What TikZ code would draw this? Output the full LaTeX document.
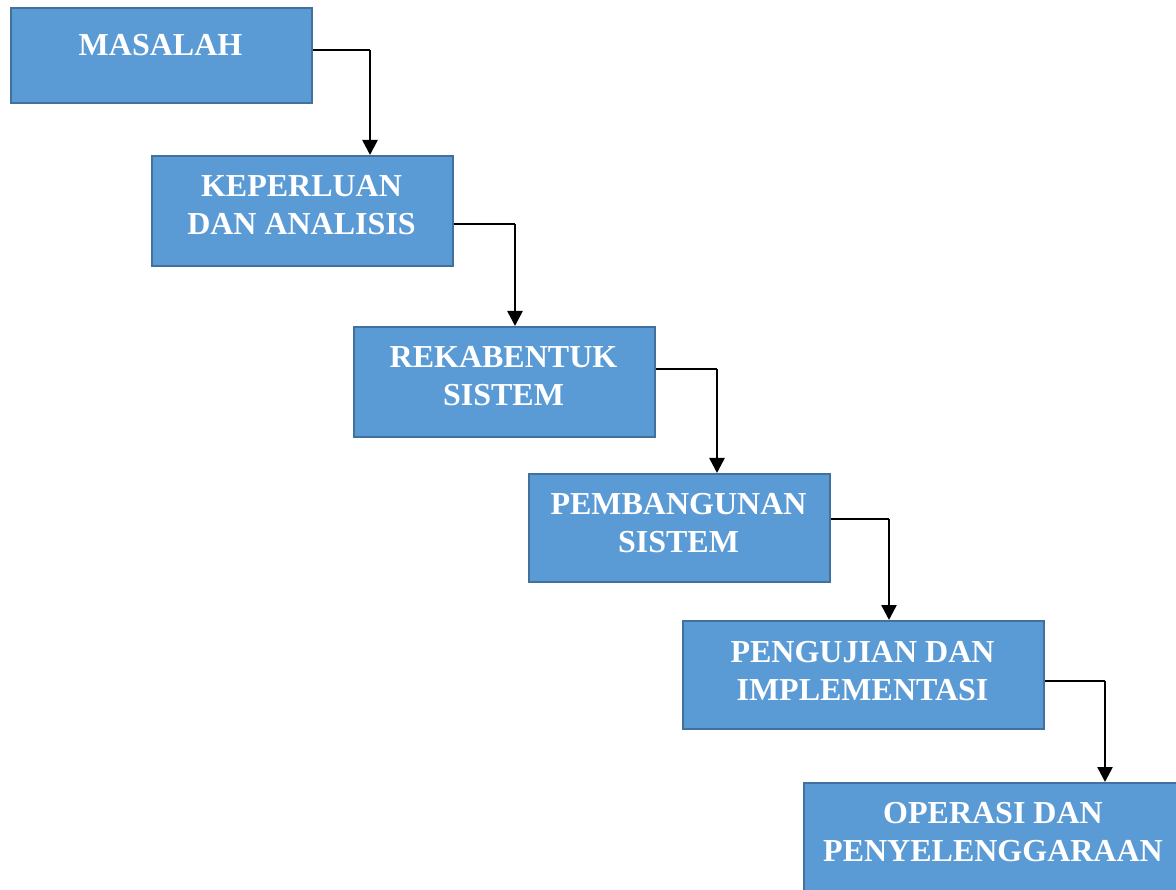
\documentclass[tikz,border=0pt]{standalone}
\usepackage{fontspec}
\setmainfont{Liberation Serif}
\usetikzlibrary{arrows.meta,calc}
\definecolor{boxfill}{HTML}{5B9BD5}
\definecolor{boxline}{HTML}{41719C}
\begin{document}
\begin{tikzpicture}[x=1pt,y=-1pt,
  stagebox/.style={draw=boxline,fill=boxfill,line width=2.4pt,rectangle,inner sep=0pt,anchor=north west},
  stagetext/.style={text=white,font=\bfseries\fontsize{32}{38}\selectfont,align=center,inner sep=0pt},
  hpart/.style={line width=1.5pt,black},
  vpart/.style={line width=2.6pt,black,-{Triangle[length=15pt,width=15pt]}}]
\useasboundingbox (0,0) rectangle (1176,890);
\begin{scope}
\clip (0,0) rectangle (1176,890);
\node[stagebox,minimum width=301pt,minimum height=95pt] (b1) at (10,7) {};
\node[stagebox,minimum width=301pt,minimum height=110pt] (b2) at (151,155) {};
\node[stagebox,minimum width=301pt,minimum height=110pt] (b3) at (353,326) {};
\node[stagebox,minimum width=301pt,minimum height=108pt] (b4) at (528,473) {};
\node[stagebox,minimum width=361pt,minimum height=108pt] (b5) at (682,620) {};
\node[stagebox,minimum width=400pt,minimum height=120pt] (b6) at (803,782) {};
\end{scope}
\node[stagetext] (t1) at (160.5,45) {MASALAH};
\node[stagetext] (t2) at (301.5,205) {KEPERLUAN\\DAN ANALISIS};
\node[stagetext] (t3) at (503.5,376) {REKABENTUK\\SISTEM};
\node[stagetext] (t4) at (678.5,523) {PEMBANGUNAN\\SISTEM};
\node[stagetext] (t5) at (862.5,671) {PENGUJIAN DAN\\IMPLEMENTASI};
\node[stagetext] (t6) at (993,832) {OPERASI DAN\\PENYELENGGARAAN};
% connectors
\coordinate (s1) at (b1.east |- 0,50);   \coordinate (c1) at (370,50);
\coordinate (s2) at (b2.east |- 0,224);  \coordinate (c2) at (515,224);
\coordinate (s3) at (b3.east |- 0,369);  \coordinate (c3) at (717,369);
\coordinate (s4) at (b4.east |- 0,519);  \coordinate (c4) at (889,519);
\coordinate (s5) at (b5.east |- 0,681);  \coordinate (c5) at (1105,681);
\draw[hpart] (s1) -- (c1); \draw[vpart] (c1) -- (c1 |- b2.north);
\draw[hpart] (s2) -- (c2); \draw[vpart] (c2) -- (c2 |- b3.north);
\draw[hpart] (s3) -- (c3); \draw[vpart] (c3) -- (c3 |- b4.north);
\draw[hpart] (s4) -- (c4); \draw[vpart] (c4) -- (c4 |- b5.north);
\draw[hpart] (s5) -- (c5); \draw[vpart] (c5) -- (c5 |- b6.north);
\end{tikzpicture}
\end{document}
